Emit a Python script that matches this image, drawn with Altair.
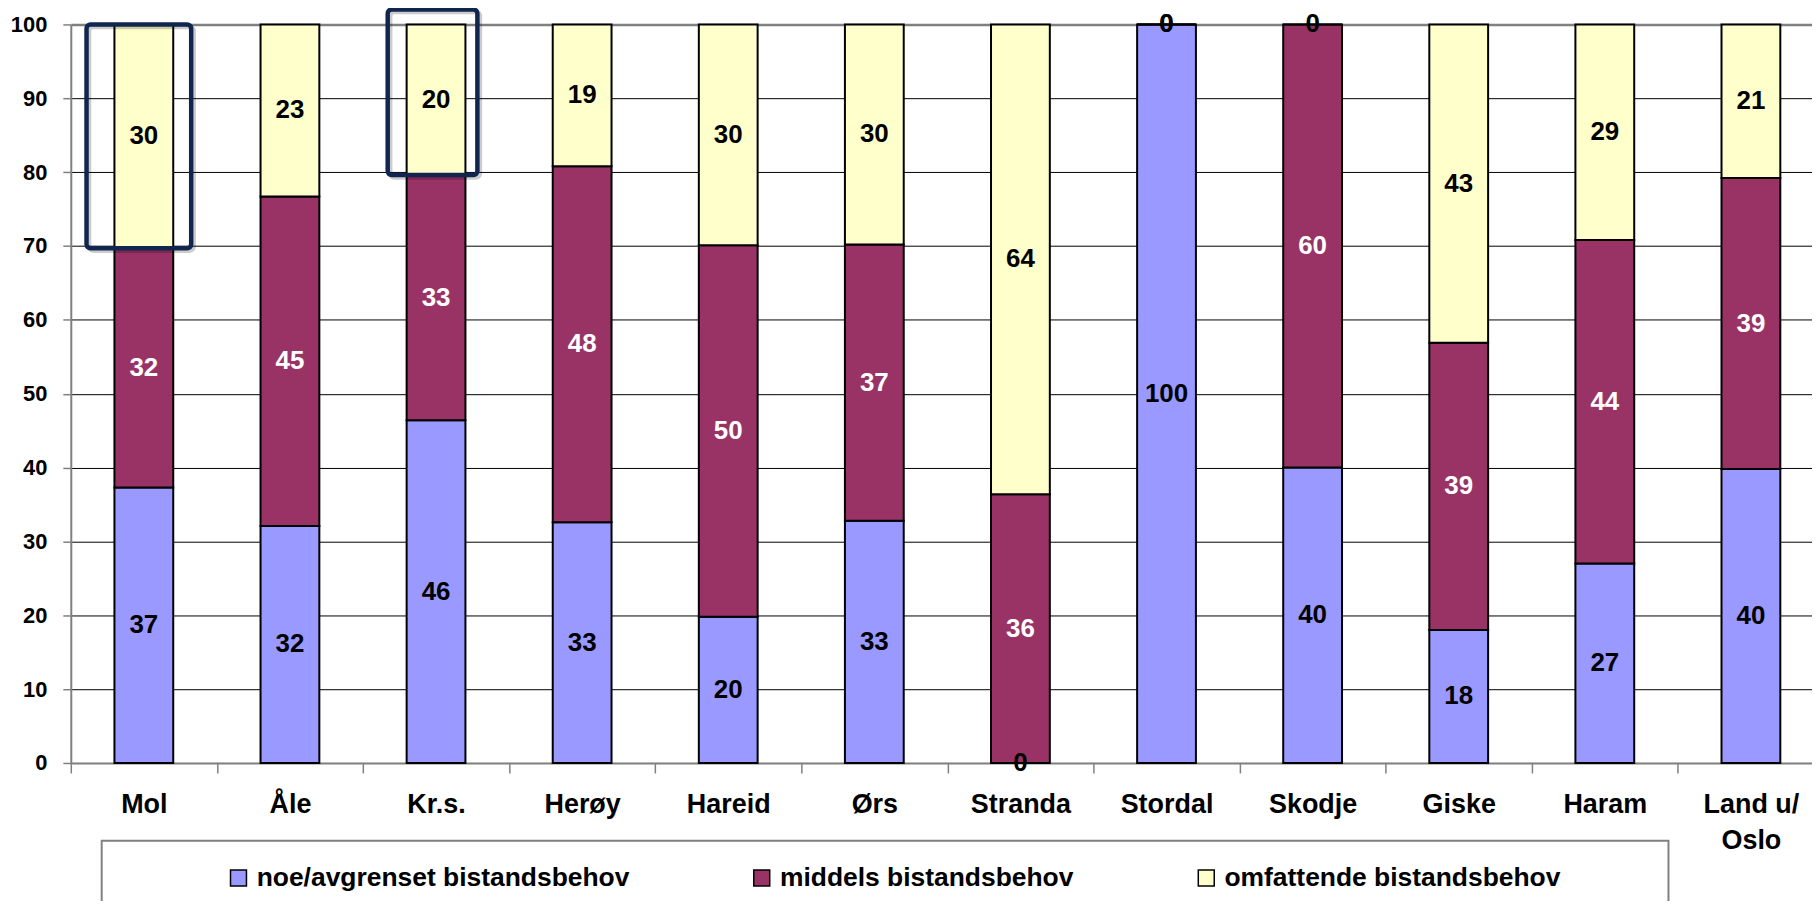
import altair as alt
import pandas as pd

categories = ["Mol", "Åle", "Kr.s.", "Herøy", "Hareid", "Ørs", "Stranda",
              "Stordal", "Skodje", "Giske", "Haram", "Land u/ Oslo"]
series = ["noe/avgrenset bistandsbehov", "middels bistandsbehov", "omfattende bistandsbehov"]
noe = [37.3, 32.1, 46.4, 32.6, 19.8, 32.8, 0, 100, 40.0, 18.0, 27.0, 39.8]
middels = [32.4, 44.6, 33.2, 48.2, 50.3, 37.4, 36.4, 0, 60.0, 38.9, 43.8, 39.4]
omfattende = [30.3, 23.3, 20.4, 19.2, 29.9, 29.8, 63.6, 0, 0, 43.1, 29.2, 20.8]
colors = ["#9999FF", "#993366", "#FFFFCC"]
highlighted = ["Mol", "Kr.s."]
y_ticks = list(range(0, 101, 10))

FONT = "'Liberation Sans', Arial, sans-serif"

rows = []
for i, c in enumerate(categories):
    for j, vals in enumerate([noe, middels, omfattende]):
        rows.append({"cat": c, "series": series[j], "order": j, "value": vals[i]})
df = pd.DataFrame(rows)

base = alt.Chart(df).transform_stack(
    stack="value", groupby=["cat"], as_=["y0", "y1"],
    sort=[alt.SortField("order", order="ascending")]
).transform_calculate(mid="(datum.y0 + datum.y1) / 2")

last = categories[-1]
x = alt.X(
    "cat:N", sort=categories,
    scale=alt.Scale(range=[0, 1759], paddingInner=0, paddingOuter=0),
    axis=alt.Axis(
        title=None, labelAngle=0, tickBand="extent", grid=False,
        domainColor="#808080", domainWidth=2, tickColor="#808080",
        tickSize=10, tickWidth=1.5, labelFont=FONT, labelFontSize=27,
        labelFontWeight="bold", labelColor="black", labelPadding=19,
        labelLineHeight=36,
        labelExpr=f"datum.label == '{last}' ? ['Land u/', 'Oslo'] : datum.label",
    ),
)
y_scale = alt.Scale(domain=[0, 100], nice=False)

bars = base.mark_bar(width=59, stroke="black", strokeWidth=2).encode(
    x=x,
    y=alt.Y(
        "y0:Q", scale=y_scale,
        axis=alt.Axis(
            title=None, values=y_ticks, grid=True,
            gridColor={"condition": {"test": "datum.value === 100", "value": "#808080"}, "value": "black"},
            gridWidth={"condition": {"test": "datum.value === 100", "value": 2.5}, "value": 1},
            domainColor="#808080", domainWidth=2, tickColor="#808080",
            tickSize=8, tickWidth=1.5, labelFont=FONT, labelFontSize=22,
            labelFontWeight="bold", labelColor="black", labelPadding=16,
        ),
    ),
    y2="y1:Q",
    color=alt.Color(
        "series:N",
        scale=alt.Scale(domain=series, range=colors),
        legend=alt.Legend(
            title=None, orient="none", legendX=155, legendY=843,
            direction="horizontal", symbolType="square", symbolSize=256,
            symbolStrokeColor="black", symbolStrokeWidth=1.5, symbolOpacity=1,
            labelFont=FONT, labelFontSize=26.5, labelFontWeight="bold",
            labelColor="black", labelLimit=1000, labelOffset=5,
            columnPadding=119, padding=0,
        ),
    ),
)

labels = base.mark_text(font=FONT, fontSize=26, fontWeight="bold").encode(
    x=x,
    y=alt.Y("mid:Q", scale=y_scale),
    text=alt.Text("value:Q", format=".0f"),
    color=alt.condition("datum.order == 1 && datum.value > 0",
                        alt.value("white"), alt.value("black")),
)


def highlight_box(cat, width, x_off, top_off, color, dx=0, dy=0, opacity=1.0):
    return base.transform_filter(
        f"datum.order == 2 && datum.cat == '{cat}'"
    ).mark_bar(filled=False, width=width, xOffset=x_off + dx, yOffset=dy,
               y2Offset=top_off + dy, stroke=color, strokeOpacity=opacity,
               strokeWidth=4.5, cornerRadius=4).encode(
        x=x, y=alt.Y("y0:Q", scale=y_scale), y2="y1:Q")


shadow1 = highlight_box(highlighted[0], 105, -5, 0, "#000000", 2.5, 2.5, 0.2)
shadow2 = highlight_box(highlighted[1], 90, -3.5, -15, "#000000", 2.5, 2.5, 0.2)
box1 = highlight_box(highlighted[0], 105, -5, 0, "#10264F")
box2 = highlight_box(highlighted[1], 90, -3.5, -15, "#10264F")

legend_box = alt.Chart(pd.DataFrame({"k": [0]})).mark_rect(
    fillOpacity=0, stroke="#808080", strokeWidth=2
).encode(x=alt.value(31), x2=alt.value(1603), y=alt.value(819), y2=alt.value(1000))

chart = alt.layer(legend_box, bars, labels, shadow1, shadow2, box1, box2).properties(
    width=1747, height=741,
    autosize=alt.AutoSizeParams(type="none"),
    padding={"left": 63, "top": 15, "right": 0, "bottom": 137},
).configure_view(stroke=None).configure(background="white")

chart.save("out.html", embed_options={"renderer": "svg", "actions": False})
